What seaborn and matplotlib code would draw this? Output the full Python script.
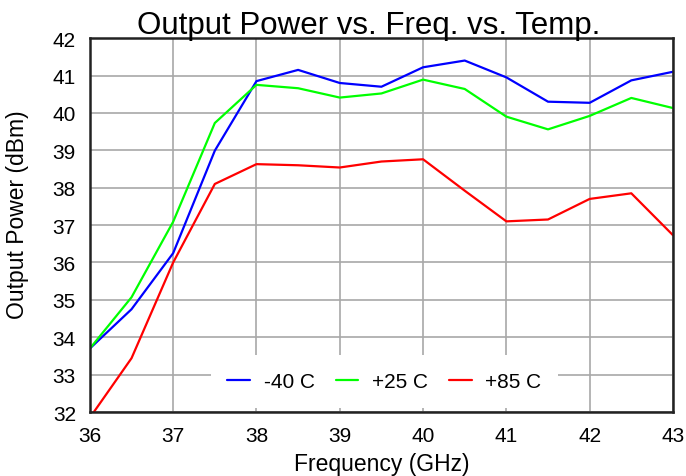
import matplotlib
matplotlib.use('Agg')
import matplotlib.pyplot as plt
import seaborn as sns
import pandas as pd

freq = [36, 36.5, 37, 37.5, 38, 38.5, 39, 39.5, 40, 40.5, 41, 41.5, 42, 42.5, 43]
p_m40 = [33.7, 34.75, 36.25, 38.99, 40.85, 41.15, 40.8, 40.7, 41.22, 41.4, 40.95, 40.3, 40.27, 40.87, 41.1]
p_p25 = [33.7, 35.07, 37.09, 39.73, 40.75, 40.66, 40.41, 40.52, 40.89, 40.64, 39.9, 39.56, 39.92, 40.4, 40.13]
p_p85 = [31.85, 33.44, 36.0, 38.1, 38.63, 38.6, 38.54, 38.7, 38.76, 37.92, 37.1, 37.15, 37.7, 37.85, 36.73]
labels = ['-40 C', '+25 C', '+85 C']
colors = ['#0000ff', '#00ff00', '#ff0000']

df = pd.concat([
    pd.DataFrame({'freq': freq, 'power': p, 'temp': lab})
    for p, lab in zip([p_m40, p_p25, p_p85], labels)
])

sns.set_style('white')
plt.rcParams['font.family'] = ['Liberation Sans Narrow', 'Liberation Sans', 'DejaVu Sans']
plt.rcParams['text.color'] = 'black'
plt.rcParams['xtick.color'] = 'black'
plt.rcParams['ytick.color'] = 'black'
plt.rcParams['axes.labelcolor'] = 'black'

fig, ax = plt.subplots(figsize=(6.86, 4.77), dpi=100)
fig.subplots_adjust(left=0.131, right=0.981, bottom=0.134, top=0.918)

sns.lineplot(data=df, x='freq', y='power', hue='temp', palette=colors,
             linewidth=1.6, ax=ax)

ax.set_xlim(36, 43)
ax.set_ylim(32, 42)
ax.set_xticks(range(36, 44))
ax.set_yticks(range(32, 43))
ax.grid(True, color='#a8a8a8', linewidth=1.2)
for s in ax.spines.values():
    s.set_color('#222222')
    s.set_linewidth(1.8)
ax.tick_params(labelsize=15, length=0, pad=10)
ax.set_xlabel('Frequency (GHz)', fontsize=16.5, labelpad=5)
ax.set_ylabel('Output Power (dBm)', fontsize=16.5)
ax.yaxis.set_label_coords(-0.105, 0.53)
ax.set_title('Output Power vs. Freq. vs. Temp.', fontsize=22.5, pad=4, x=0.478)

leg = ax.legend(loc='lower center', bbox_to_anchor=(0.505, -0.005), ncol=3,
                frameon=True, fontsize=15, handlelength=1.1, handletextpad=0.65,
                columnspacing=1.0, borderpad=0.8, borderaxespad=0.3)
leg.get_frame().set_edgecolor('none')
leg.get_frame().set_facecolor('white')
leg.get_frame().set_alpha(1)

fig.savefig('out.png', dpi=100)
